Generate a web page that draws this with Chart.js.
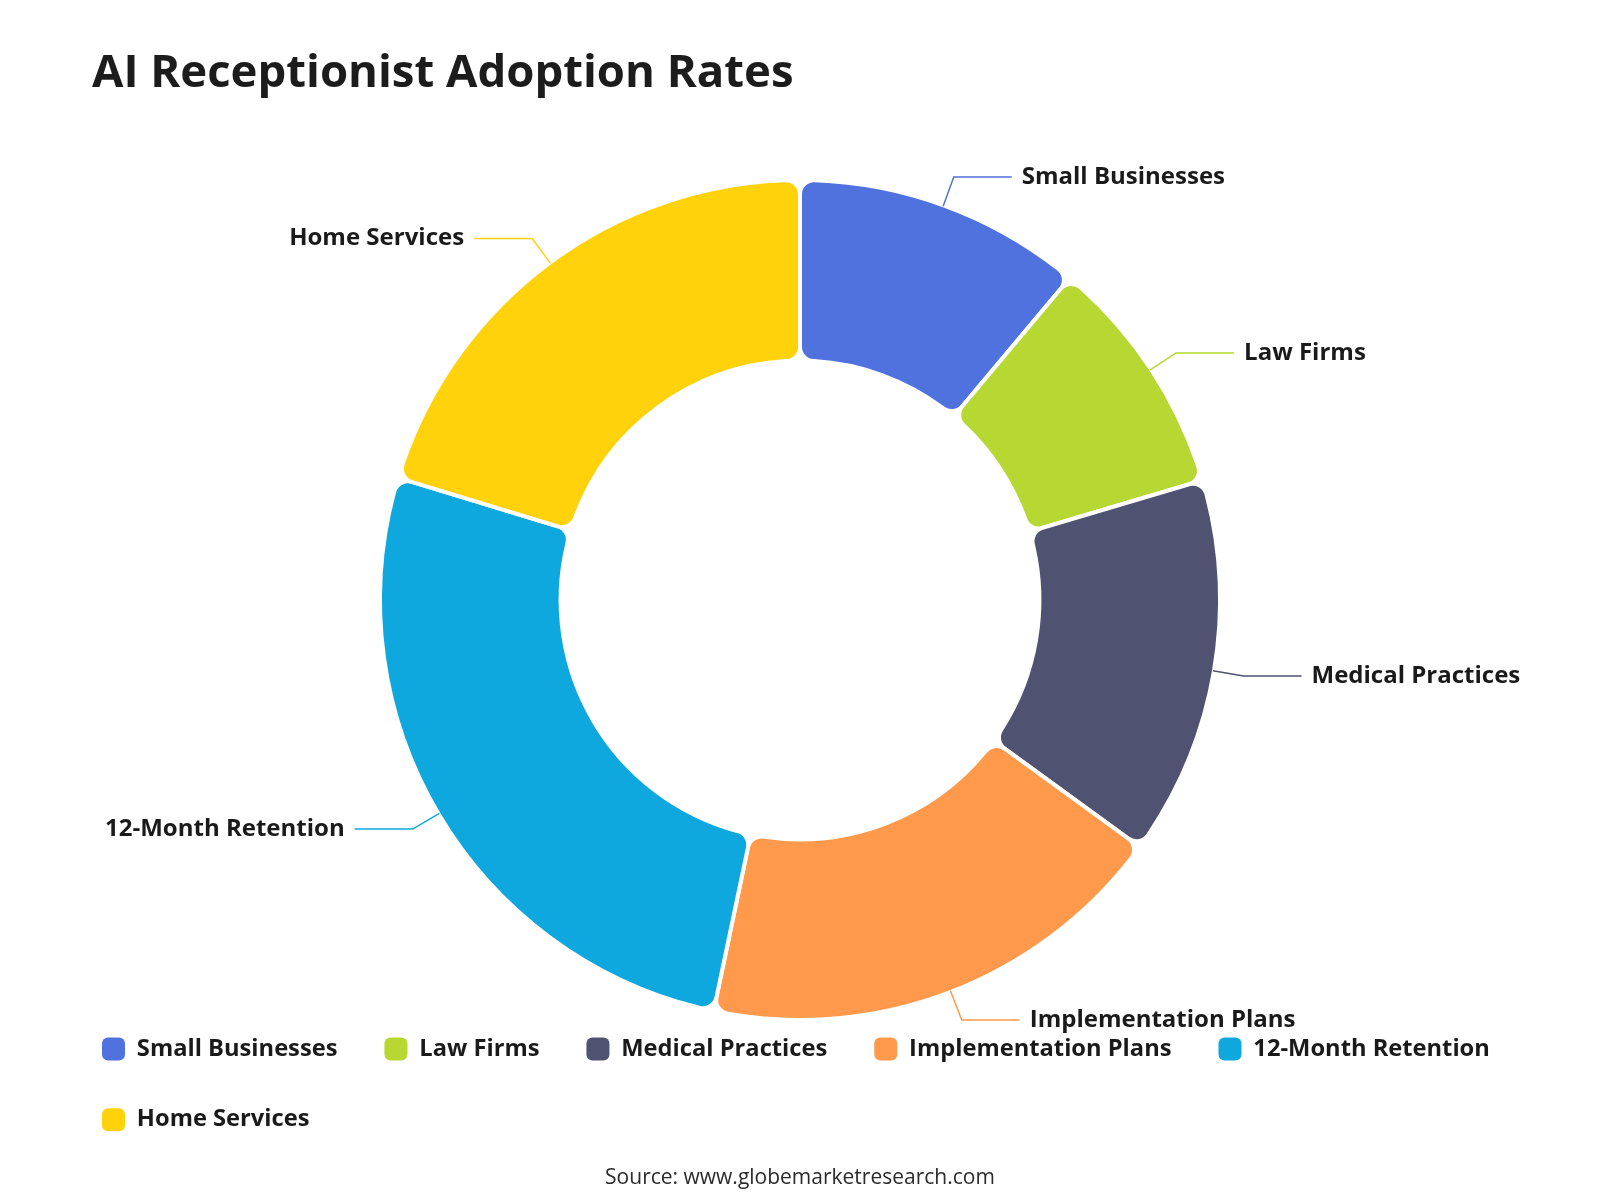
<!DOCTYPE html>
<html><head><meta charset="utf-8">
<script src="https://cdn.jsdelivr.net/npm/chart.js@4.4.1/dist/chart.umd.min.js"></script>
<style>
html,body{margin:0;padding:0;background:#fff;}
#wrap{position:relative;width:1600px;height:1200px;}
#title{position:absolute;left:92px;top:42px;font:700 45.5px 'Open Sans';color:#1c1c1c;margin:0;line-height:1.2;white-space:nowrap;}
#source{position:absolute;left:0;width:1600px;top:1162px;text-align:center;font:500 21px 'Open Sans';color:#2b2b2b;}
canvas{position:absolute;left:0;top:0;}
</style></head><body>
<div id="wrap">
<canvas id="c" width="1600" height="1200"></canvas>
<h1 id="title">AI Receptionist Adoption Rates</h1>
<div id="source">Source: www.globemarketresearch.com</div>
</div>
<script>
const categories = ['Small Businesses', 'Law Firms', 'Medical Practices', 'Implementation Plans', '12-Month Retention', 'Home Services'];
const shares = [11.1, 9.3, 14.6, 18.3, 26.4, 20.3];
const colors = ['#5072DF', '#B7D733', '#505272', '#FF9A4D', '#0EA8DE', '#FFD20C'];

const calloutPlugin = {
  id: 'callouts',
  afterDatasetsDraw(chart) {
    const ctx = chart.ctx;
    const meta = chart.getDatasetMeta(0);
    meta.data.forEach((arc, i) => {
      const p = arc.getProps(['x', 'y', 'startAngle', 'endAngle', 'outerRadius'], true);
      const mid = (p.startAngle + p.endAngle) / 2;
      const c = Math.cos(mid), s = Math.sin(mid);
      const r0 = p.outerRadius - 1, r1 = p.outerRadius + 30;
      const x0 = p.x + c * r0, y0 = p.y + s * r0;
      const x1 = p.x + c * r1, y1 = p.y + s * r1;
      const dir = c >= 0 ? 1 : -1;
      const x2 = x1 + dir * 58;
      ctx.save();
      ctx.strokeStyle = colors[i];
      ctx.lineWidth = 1.5;
      ctx.beginPath();
      ctx.moveTo(x0, y0); ctx.lineTo(x1, y1); ctx.lineTo(x2, y1);
      ctx.stroke();
      ctx.fillStyle = '#1a1a1a';
      ctx.font = '700 24px "Open Sans"';
      ctx.textAlign = dir > 0 ? 'left' : 'right';
      ctx.textBaseline = 'middle';
      ctx.fillText(categories[i], x2 + dir * 10, y1);
      ctx.restore();
    });
  }
};

Chart.defaults.font.family = "'Open Sans', sans-serif";

new Chart(document.getElementById('c'), {
  type: 'doughnut',
  data: {
    labels: categories,
    datasets: [{
      data: shares,
      backgroundColor: colors,
      borderColor: '#ffffff',
      borderWidth: 4,
      borderRadius: 14,
      radius: 420,
      hoverOffset: 0
    }]
  },
  options: {
    responsive: false,
    animation: false,
    cutout: '57%',
    layout: { padding: { left: 55, right: 55, top: 209.85, bottom: 58.45 } },
    plugins: {
      title: { display: false },
      tooltip: { enabled: false },
      legend: {
        position: 'bottom',
        align: 'start',
        labels: {
          font: { size: 23.7, weight: '700' },
          color: '#1a1a1a',
          boxWidth: 23,
          boxHeight: 23,
          useBorderRadius: true,
          borderRadius: 6,
          padding: 47,
          generateLabels(chart) {
            return categories.map((t, i) => ({
              text: t, fillStyle: colors[i], strokeStyle: colors[i], lineWidth: 0,
              hidden: false, index: i, fontColor: '#1a1a1a', borderRadius: 6
            }));
          }
        }
      }
    }
  },
  plugins: [calloutPlugin]
});
</script>
</body></html>
